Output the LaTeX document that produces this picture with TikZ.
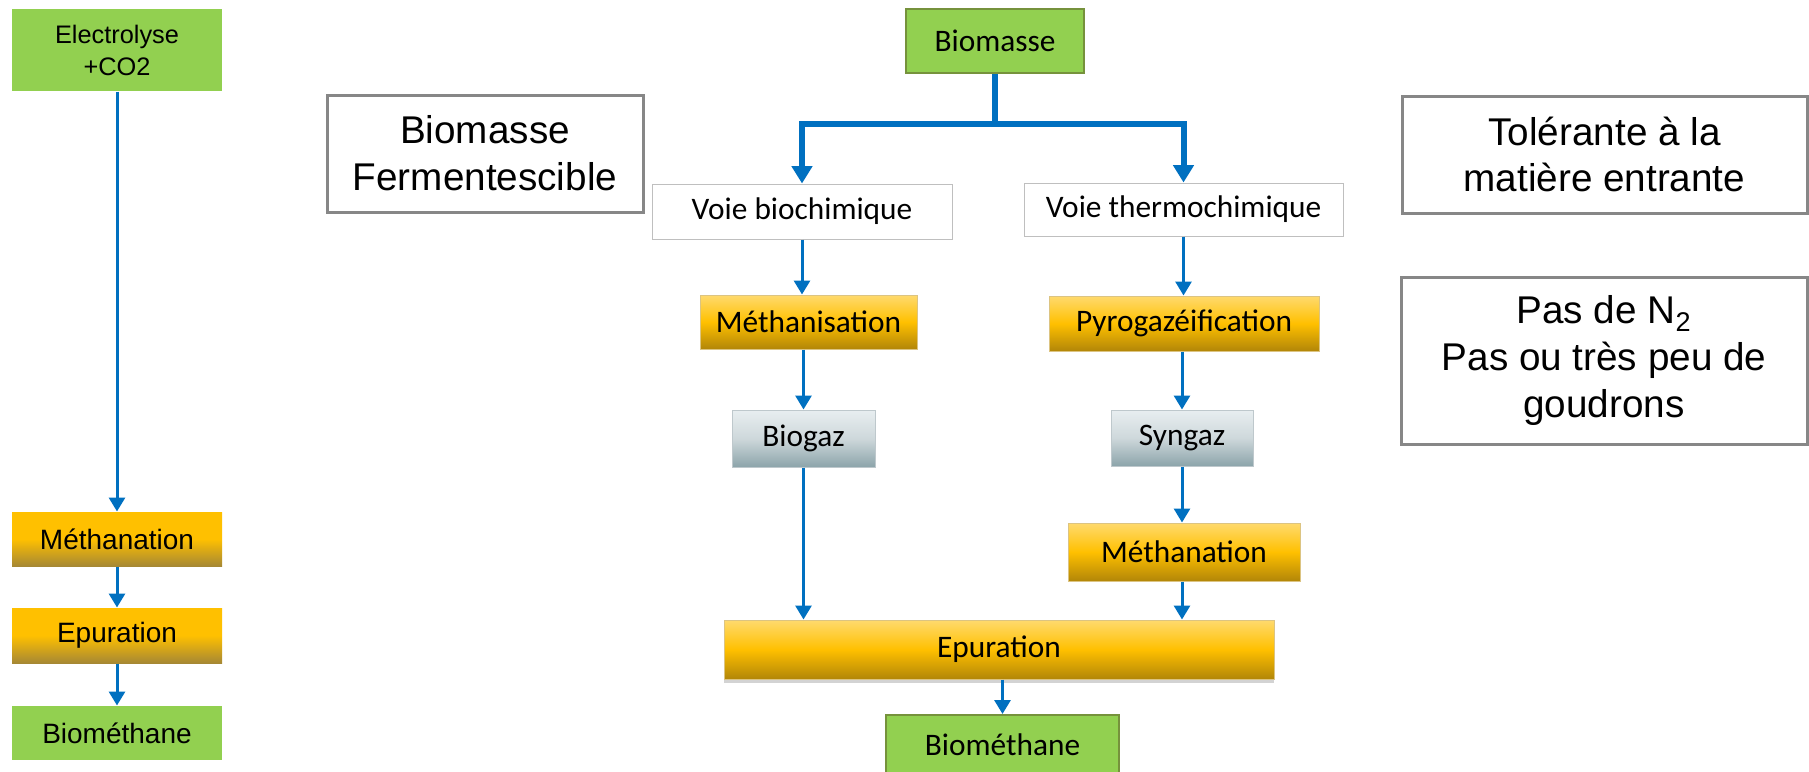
\documentclass[tikz,border=0pt]{standalone}
\usepackage{fontspec}
\setmainfont{Liberation Sans}
\newfontfamily\gillfont{Carlito}
\usetikzlibrary{arrows.meta,shadows}

\definecolor{leaf}{RGB}{146,208,80}
\definecolor{leafline}{RGB}{118,146,60}
\definecolor{goldtop}{RGB}{255,218,110}
\definecolor{goldmid}{RGB}{255,192,0}
\definecolor{goldbot}{RGB}{178,134,8}
\definecolor{goldleft}{RGB}{166,136,52}
\definecolor{goldline}{RGB}{220,196,130}
\definecolor{slatetop}{RGB}{232,238,240}
\definecolor{slatemid}{RGB}{206,216,219}
\definecolor{slatebot}{RGB}{140,164,170}
\definecolor{slateline}{RGB}{190,200,204}
\definecolor{flowblue}{RGB}{0,112,192}
\definecolor{noteline}{RGB}{135,135,135}

\tikzset{every picture/.style={line width=0.75pt},
  flow/.style={flowblue, line width=2.25pt, -{Triangle[width=12pt,length=10.5pt]}},
  bigflow/.style={flowblue, line width=4.5pt, -{Triangle[width=15pt,length=13pt]}},
  lbox/.style={inner sep=0pt, align=center, minimum width=157.5pt, font=\fontsize{21}{25}\selectfont},
  lgreen/.style={lbox, fill=leaf},
  lgold/.style={lbox, top color=goldmid, bottom color=goldleft, middle color=goldmid},
  cbox/.style={inner sep=0pt, align=center, font=\gillfont\fontsize{23.5}{28}\selectfont},
  cgreen/.style={cbox, fill=leaf, draw=leafline, line width=1.5pt},
  cgold/.style={cbox, top color=goldtop, bottom color=goldbot, middle color=goldmid, draw=goldline},
  cslate/.style={cbox, top color=slatetop, bottom color=slatebot, middle color=slatemid, draw=slateline},
  cvoie/.style={cbox, fill=white, draw=black!25},
  notebox/.style={inner sep=0pt, align=center, fill=white, draw=noteline, line width=2.25pt, font=\fontsize{29}{35}\selectfont}
}

\begin{document}
\begin{tikzpicture}[x=0.75pt,y=0.75pt,yscale=-1,xscale=1]
%frame of the picture
\useasboundingbox (0,0) rectangle (1809,771);

%Left column
% Text Node
\draw (117,50) node [lgreen, minimum height=61.5pt, font=\fontsize{19}{24}\selectfont] (elec) {Electrolyse\\+CO2};
% Text Node
\draw (117,539) node [lgold, minimum height=40.5pt] (lmeth) {Méthanation};
% Text Node
\draw (117,635.5) node [lgold, minimum height=41.25pt] (lepur) {Epuration};
% Text Node
\draw (117,733) node [lgreen, minimum height=40.5pt] (lbiom) {Biométhane};

%Notes
% Text Node
\draw (485,153.5) node [notebox, minimum width=237pt, minimum height=87.75pt] (ferment) {Biomasse\\Fermentescible};
% Text Node
\draw (1604.5,154.5) node [notebox, minimum width=303.75pt, minimum height=87.75pt] (tolere) {Tolérante à la\\matière entrante};
% Text Node
\draw (1604,360.5) node [notebox, minimum width=304.5pt, minimum height=125.25pt] (sansazote) {Pas de N\textsubscript{2}\\Pas ou très peu de\\goudrons};

%Centre
% Text Node
\draw (995,41) node [cgreen, minimum width=133.5pt, minimum height=48pt] (biomasse) {Biomasse};
% Text Node
\draw (802,211.5) node [cvoie, minimum width=225pt, minimum height=41.25pt] (voiebio) {Voie biochimique};
% Text Node
\draw (1183.5,209.5) node [cvoie, minimum width=239.25pt, minimum height=39.75pt] (voietherm) {Voie thermochimique};
% Text Node
\draw (808.5,322) node [cgold, minimum width=162.75pt, minimum height=40.5pt] (methanis) {Méthanisation};
% Text Node
\draw (1184,323.5) node [cgold, minimum width=202.5pt, minimum height=41.25pt] (pyro) {Pyrogazéification};
% Text Node
\draw (803.5,438.5) node [cslate, minimum width=107.25pt, minimum height=42.75pt] (biogaz) {Biogaz};
% Text Node
\draw (1182,438) node [cslate, minimum width=106.5pt, minimum height=42pt] (syngaz) {Syngaz};
% Text Node
\draw (1184,552) node [cgold, minimum width=174pt, minimum height=43.5pt] (cmeth) {Méthanation};
% Text Node
\draw (999,649.5) node [cgold, minimum width=412.5pt, minimum height=44.25pt, drop shadow={opacity=0.35, shadow xshift=0pt, shadow yshift=-3pt}] (cepur) {Epuration};
% Text Node
\draw (1002.5,745) node [cgreen, minimum width=174.75pt, minimum height=45pt] (cbiom) {Biométhane};

%Connectors
\coordinate (split) at (995,124);
\draw [flowblue, line width=4.5pt] (biomasse.south) -- (split);
\draw [bigflow] (split) -| (voiebio.north);
\draw [bigflow] (split) -| (voietherm.north);
\draw [flow] (voiebio.south) -- (voiebio.south |- methanis.north);
\draw [flow] (voietherm.south) -- (voietherm.south |- pyro.north);
\draw [flow] (methanis.south -| biogaz.north) -- (biogaz.north);
\draw [flow] (pyro.south -| syngaz.north) -- (syngaz.north);
\draw [flow] (biogaz.south) -- (biogaz.south |- cepur.north);
\draw [flow] (syngaz.south) -- (syngaz.south |- cmeth.north);
\draw [flow] (cmeth.south -| syngaz.south) -- (syngaz.south |- cepur.north);
\draw [flow] (cepur.south -| cbiom.north) -- (cbiom.north);
\draw [flow] (elec) -- (lmeth);
\draw [flow] (lmeth) -- (lepur);
\draw [flow] (lepur) -- (lbiom);
\end{tikzpicture}
\end{document}
